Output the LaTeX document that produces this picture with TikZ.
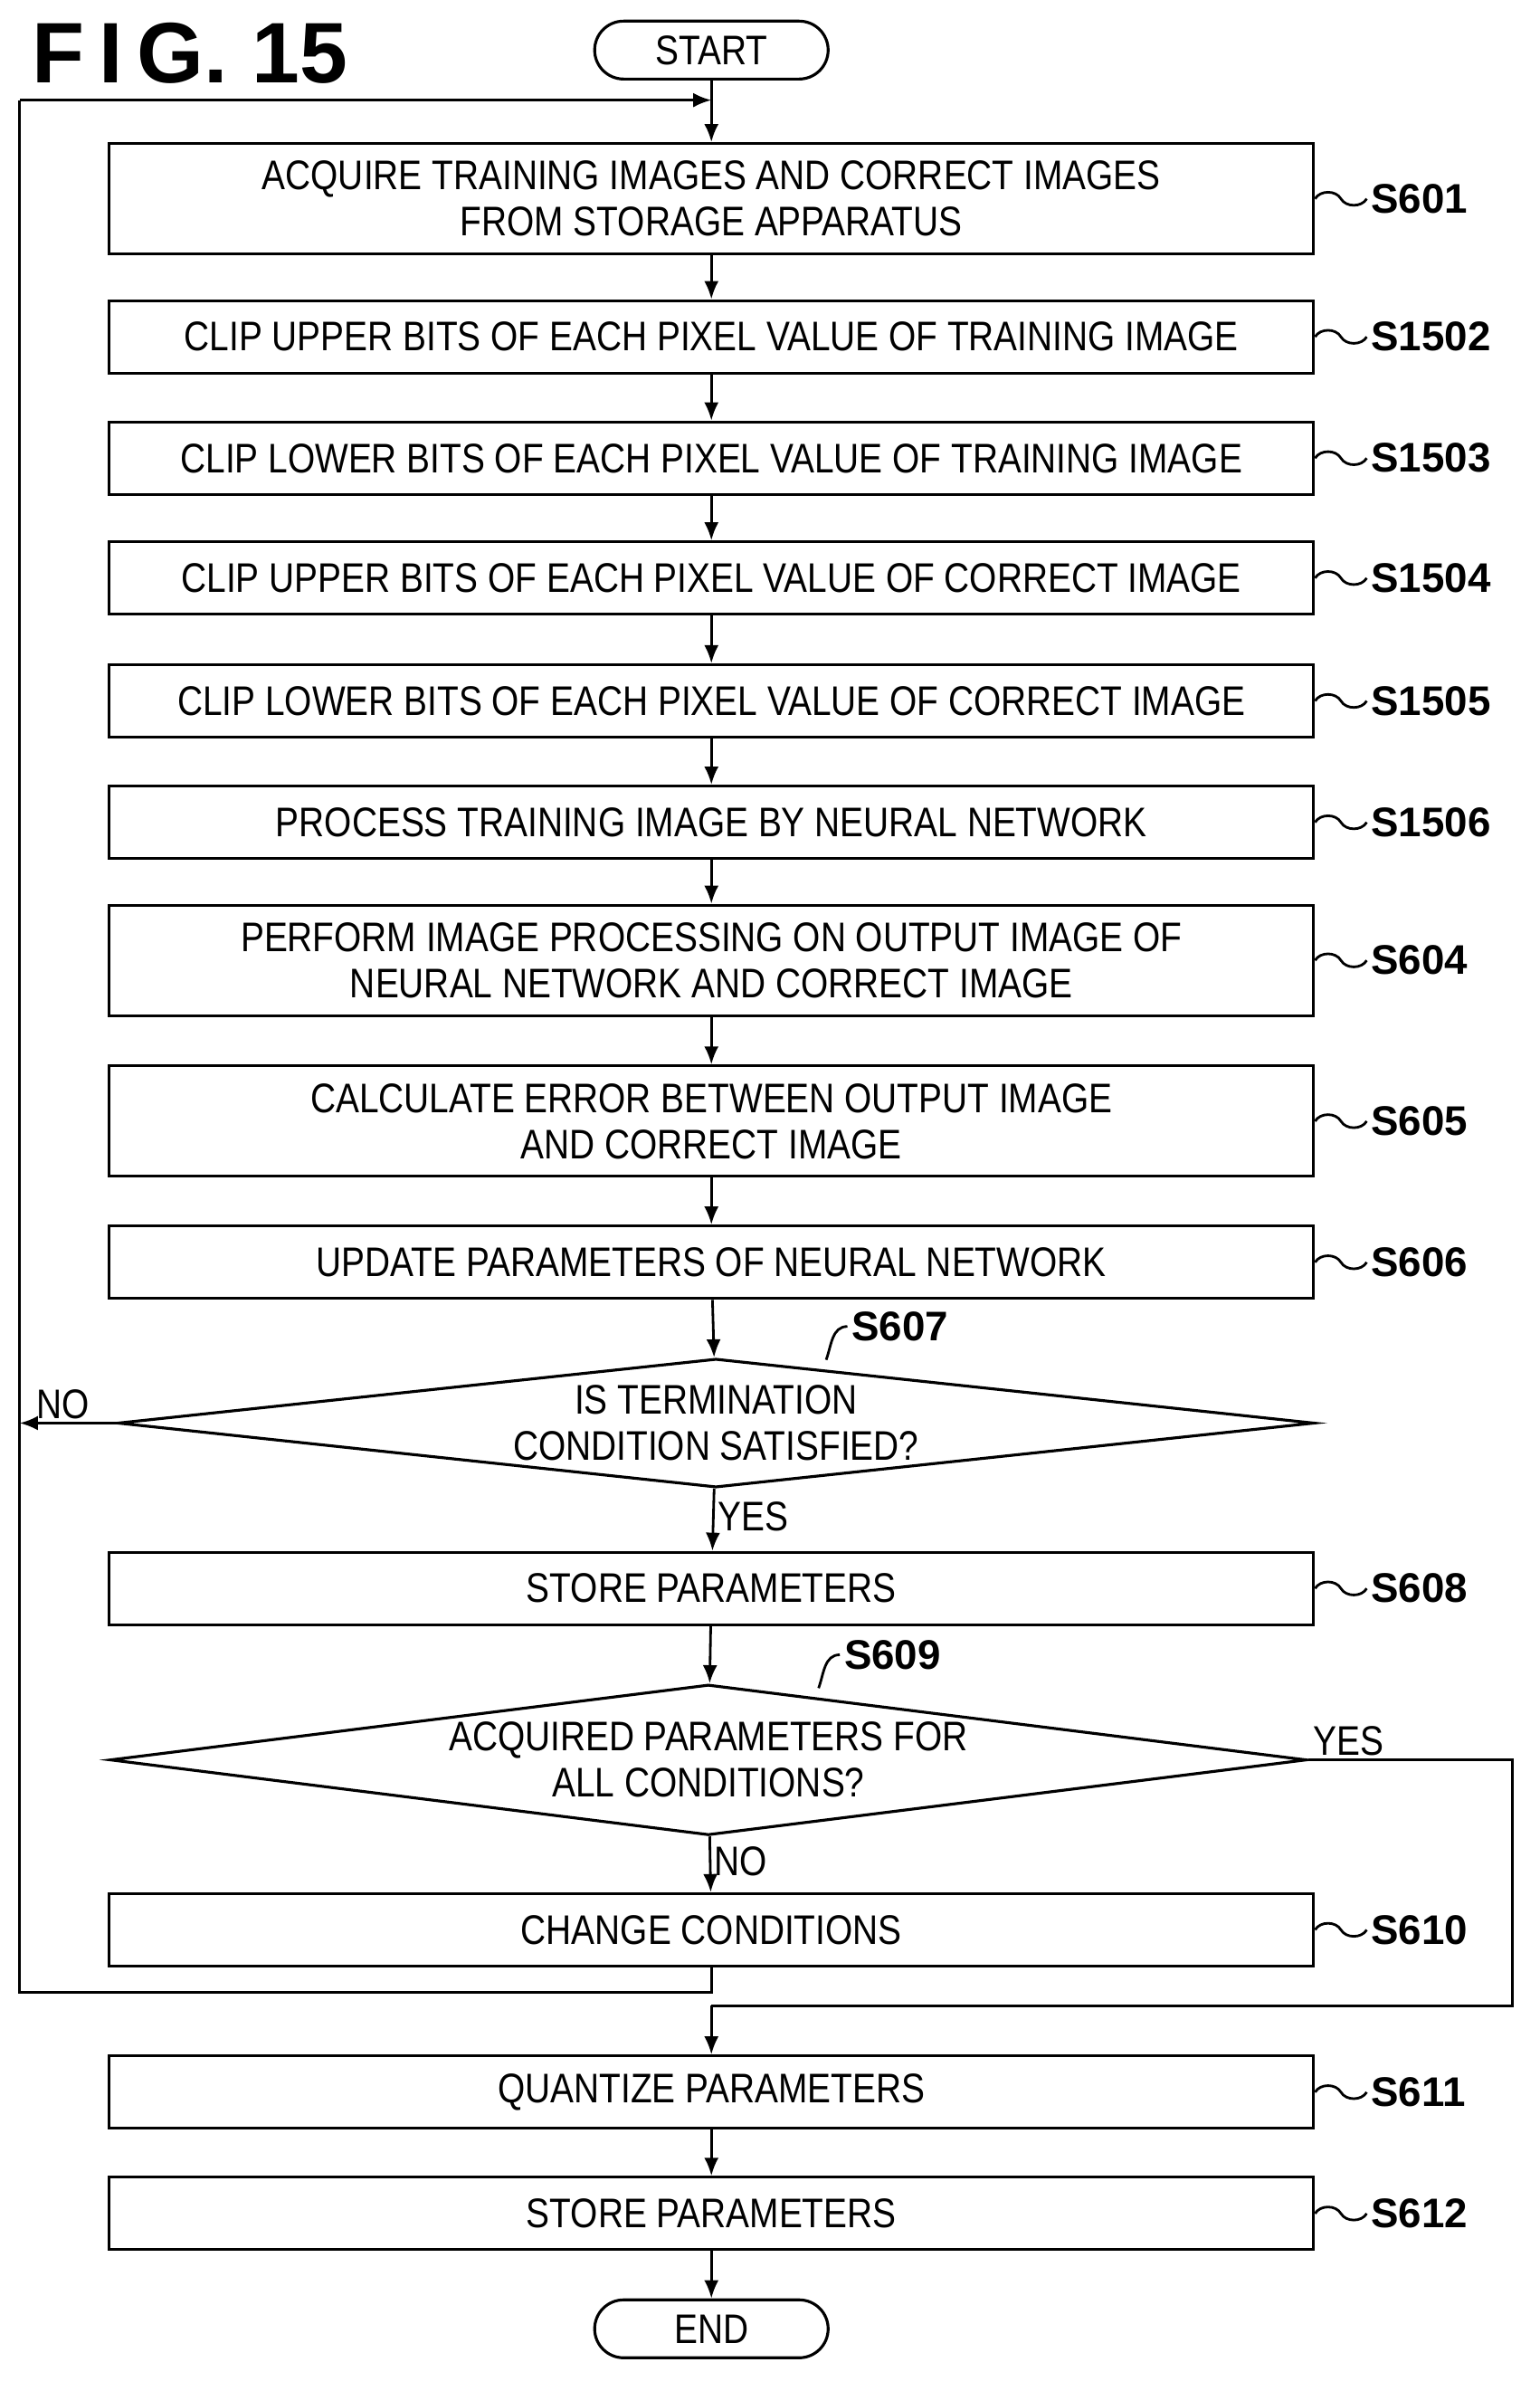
\documentclass[tikz,border=0pt]{standalone}
\usepackage{fontspec}
\setmainfont{Liberation Sans}
\newfontfamily\boxfont[FakeStretch=0.85]{Liberation Sans}
\usetikzlibrary{shapes.geometric, arrows.meta}
\tikzstyle{box} = [rectangle, draw, line width=0.9pt, minimum width=133.1mm,
    minimum height=8mm, align=center, font=\boxfont\fontsize{13}{14.5}\selectfont]
\tikzstyle{tall} = [minimum height=12.2mm]
\tikzstyle{decision} = [diamond, draw, line width=0.9pt, minimum width=132.2mm,
    shape aspect=7.6, inner sep=0pt, align=center, font=\boxfont\fontsize{13}{14.5}\selectfont]
\tikzstyle{term} = [rectangle, draw, line width=0.9pt, rounded corners=3.2mm,
    minimum width=25.8mm, minimum height=6.4mm, font=\boxfont\fontsize{13}{14.5}\selectfont]
\tikzstyle{lab} = [anchor=west, inner sep=1pt, font=\bfseries\fontsize{13}{14}\selectfont]
\tikzstyle{tag} = [inner sep=1pt, font=\boxfont\fontsize{13}{14}\selectfont]
\tikzstyle{line} = [draw, line width=0.8pt, -{Latex[length=2mm,width=1.6mm]}]
\tikzstyle{wire} = [draw, line width=0.8pt]
\newcommand{\steplab}[2]{%
  \draw[line width=0.8pt] (#1.east) to[out=60,in=120] ++(17,0) to[out=-60,in=-120] ++(17,0)
    node[lab] (#1lab) {#2};}

\begin{document}
\begin{tikzpicture}[x=0.1676mm, y=-0.1676mm]
    \useasboundingbox (0,0) rectangle (1015,1576);
    % Title
    \node[anchor=west, font=\bfseries\fontsize{27}{30}\selectfont] (title) at (14,35) {F\,I\,G. 15};

    % Nodes
    \node [term] (start) at (469,33) {START};
    \node [box, tall] (s601) at (469,131) {ACQUIRE TRAINING IMAGES AND CORRECT IMAGES\\FROM STORAGE APPARATUS};
    \node [box] (s1502) at (469,222) {CLIP UPPER BITS OF EACH PIXEL VALUE OF TRAINING IMAGE};
    \node [box] (s1503) at (469,302) {CLIP LOWER BITS OF EACH PIXEL VALUE OF TRAINING IMAGE};
    \node [box] (s1504) at (469,381) {CLIP UPPER BITS OF EACH PIXEL VALUE OF CORRECT IMAGE};
    \node [box] (s1505) at (469,462) {CLIP LOWER BITS OF EACH PIXEL VALUE OF CORRECT IMAGE};
    \node [box] (s1506) at (469,542) {PROCESS TRAINING IMAGE BY NEURAL NETWORK};
    \node [box, tall] (s604) at (469,633) {PERFORM IMAGE PROCESSING ON OUTPUT IMAGE OF\\NEURAL NETWORK AND CORRECT IMAGE};
    \node [box, tall] (s605) at (469,739) {CALCULATE ERROR BETWEEN OUTPUT IMAGE\\AND CORRECT IMAGE};
    \node [box] (s606) at (469,832) {UPDATE PARAMETERS OF NEURAL NETWORK};
    \node [decision] (s607) at (472,938) {IS TERMINATION\\CONDITION SATISFIED?};
    \node [box] (s608) at (469,1047) {STORE PARAMETERS};
    \node [decision, shape aspect=6.9] (s609) at (467,1160) {ACQUIRED PARAMETERS FOR\\ALL CONDITIONS?};
    \node [box] (s610) at (469,1272) {CHANGE CONDITIONS};
    \node [box] (s611) at (469,1379) {QUANTIZE PARAMETERS};
    \node [box] (s612) at (469,1459) {STORE PARAMETERS};
    \node [term] (end) at (469,1535) {END};

    % Step labels
    \steplab{s601}{S601}
    \steplab{s1502}{S1502}
    \steplab{s1503}{S1503}
    \steplab{s1504}{S1504}
    \steplab{s1505}{S1505}
    \steplab{s1506}{S1506}
    \steplab{s604}{S604}
    \steplab{s605}{S605}
    \steplab{s606}{S606}
    \steplab{s608}{S608}
    \steplab{s610}{S610}
    \steplab{s611}{S611}
    \steplab{s612}{S612}
    \draw[line width=0.8pt] (s607.north east) ++(-125,-20) coordinate (c607)
        to[out=70,in=180] ++(14,-22) node[lab] (s607lab) {S607};
    \draw[line width=0.8pt] (s609.north east) ++(-125,-22) coordinate (c609)
        to[out=70,in=180] ++(14,-22) node[lab] (s609lab) {S609};

    % Edges
    \coordinate (loop) at (469,66);
    \coordinate (nw) at (13,66);
    \coordinate (nl) at (13,938);
    \coordinate (sw) at (13,1313);
    \coordinate (yr) at (997,1160);
    \coordinate (ye) at (997,1322);
    \coordinate (yj) at (469,1322);
    \path [line] (start) -- (s601);
    \path [line] (s601) -- (s1502);
    \path [line] (s1502) -- (s1503);
    \path [line] (s1503) -- (s1504);
    \path [line] (s1504) -- (s1505);
    \path [line] (s1505) -- (s1506);
    \path [line] (s1506) -- (s604);
    \path [line] (s604) -- (s605);
    \path [line] (s605) -- (s606);
    \path [line] (s606) -- (s607);
    \path [line] (s607) -- node[tag, right, pos=0.45] (yes1) {YES} (s608);
    \path [line] (s608) -- (s609);
    \path [line] (s609) -- node[tag, right, pos=0.45] (no2) {NO} (s610);
    \path [line] (s607.west) -- node[tag, above, pos=0.55] (no1) {NO} (nl);
    \path [wire] (s610) |- (sw) -- (nw);
    \path [line] (nw) -- (loop);
    \path [wire] (s609.east) -- (yr) -- (ye) -- (yj);
    \node[tag, above] (yes2) at (889,1160) {YES};
    \path [line] (yj) -- (s611);
    \path [line] (s611) -- (s612);
    \path [line] (s612) -- (end);
\end{tikzpicture}
\end{document}
